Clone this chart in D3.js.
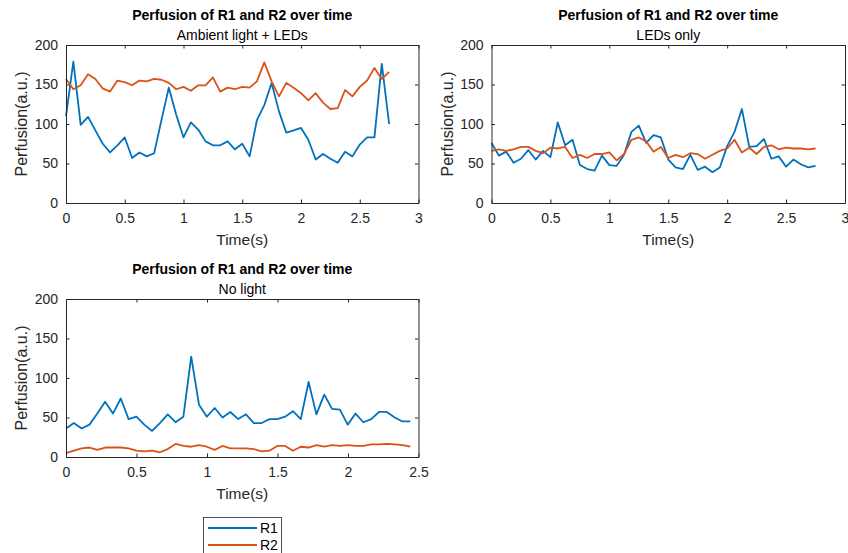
<!DOCTYPE html>
<html>
<head>
<meta charset="utf-8">
<script src="https://cdn.jsdelivr.net/npm/d3@7"></script>
<style>
  html, body { margin: 0; padding: 0; background: #fff; }
  svg { display: block; font-family: "Liberation Sans", Arial, Helvetica, sans-serif; }
</style>
</head>
<body>
<svg id="chart" width="848" height="553"></svg>
<script>
// Perfusion recordings of regions R1 and R2 (arbitrary units), 45 samples each
const ambientR1 = [110,179,99,109,92,75,64,73,83,57,64,59,63,105,146,112,83,102,93,78,73,73,78,68,75,59,105,124,152,116,89,92,95,80,55,62,56,51,65,59,74,83,83,176,100];
const ambientR2 = [157,144,149,163,157,145,141,155,153,149,155,154,157,156,152,144,147,142,149,149,159,141,146,144,147,146,154,178,154,135,152,146,139,130,139,127,119,120,143,135,147,155,171,157,166];
const ledR1 = [76,60,65,51,56,67,55,66,58,102,73,80,48,43,41,60,48,47,61,90,98,76,86,83,55,45,43,61,42,46,39,45,72,90,119,71,72,81,56,59,46,55,49,45,47];
const ledR2 = [66,68,66,68,71,71,66,63,70,69,71,57,61,57,62,62,64,54,62,80,83,78,65,71,57,61,58,63,62,56,61,66,69,80,64,70,62,71,73,68,70,69,69,68,69];
const darkR1 = [36,43,36,41,55,70,55,74,48,51,41,33,43,54,44,51,127,66,51,62,50,57,48,54,43,43,48,48,51,58,48,95,54,79,61,60,41,55,44,48,57,57,50,45,45];
const darkR2 = [5,8,11,12,9,12,12,12,11,8,7,8,6,10,16.5,14,13,15,13,9,14,11,11,11,10,7,8,14,14,8,13,12,15,13,15,14,15,14,14,16,16,16.5,16,15,13];

// sampling interval (s) of each recording
const intervalLit = 0.0625;
const intervalDark = 0.0555;

const seriesNames = ["R1", "R2"];
const colors = ["#0072BD", "#D95319"];
const titleText = "Perfusion of R1 and R2 over time";
const subtitles = ["Ambient light + LEDs", "LEDs only", "No light"];
const yTicks = [0, 50, 100, 150, 200];
const xTicksLong = [0, 0.5, 1, 1.5, 2, 2.5, 3];
const xTicksShort = [0, 0.5, 1, 1.5, 2, 2.5];

const panels = [
  { left: 66, right: 418.5, top: 45, bottom: 203, xMax: 3, xTicks: xTicksLong,
    sub: subtitles[0], series: [ambientR1, ambientR2], dt: intervalLit },
  { left: 491.5, right: 845, top: 45, bottom: 203, xMax: 3, xTicks: xTicksLong,
    sub: subtitles[1], series: [ledR1, ledR2], dt: intervalLit },
  { left: 66, right: 418.5, top: 299, bottom: 457, xMax: 2.5, xTicks: xTicksShort,
    sub: subtitles[2], series: [darkR1, darkR2], dt: intervalDark }
];

const svg = d3.select("#chart");
const axisColor = "#262626";
const tickLen = 3.5;

panels.forEach(p => {
  const x = d3.scaleLinear().domain([0, p.xMax]).range([p.left, p.right]);
  const y = d3.scaleLinear().domain([0, 200]).range([p.bottom, p.top]);
  const g = svg.append("g");

  // data lines
  const line = d3.line()
    .x((d, i) => x(i * p.dt))
    .y(d => y(d));
  p.series.forEach((s, k) => {
    g.append("path")
      .datum(s)
      .attr("d", line)
      .attr("fill", "none")
      .attr("stroke", colors[k])
      .attr("stroke-width", 1.8)
      .attr("stroke-linejoin", "round");
  });

  // axes with inward ticks on all four sides
  const bottomAxis = d3.axisBottom(x).tickValues(p.xTicks).tickSizeInner(-tickLen).tickSizeOuter(0).tickPadding(10).tickFormat(d3.format("~g"));
  const topAxis = d3.axisTop(x).tickValues(p.xTicks).tickSizeInner(-tickLen).tickSizeOuter(0).tickFormat("");
  const leftAxis = d3.axisLeft(y).tickValues(yTicks).tickSizeInner(-tickLen).tickSizeOuter(0).tickPadding(8);
  const rightAxis = d3.axisRight(y).tickValues(yTicks).tickSizeInner(-tickLen).tickSizeOuter(0).tickFormat("");

  const styleAxis = sel => {
    sel.select(".domain").attr("stroke", axisColor).attr("stroke-width", 1);
    sel.selectAll(".tick line").attr("stroke", axisColor).attr("stroke-width", 1);
    sel.selectAll(".tick text").attr("fill", axisColor).style("font-size", "14px")
      .style("font-family", "'Liberation Sans', Arial, Helvetica, sans-serif");
  };

  g.append("g").attr("transform", `translate(0,${p.bottom})`).call(bottomAxis).call(styleAxis);
  g.append("g").attr("transform", `translate(0,${p.top})`).call(topAxis).call(styleAxis);
  g.append("g").attr("transform", `translate(${p.left},0)`).call(leftAxis).call(styleAxis);
  g.append("g").attr("transform", `translate(${p.right},0)`).call(rightAxis).call(styleAxis);

  const cx = (p.left + p.right) / 2;
  const cy = (p.top + p.bottom) / 2;

  // titles
  g.append("text").attr("x", cx).attr("y", p.top - 25)
    .attr("text-anchor", "middle").attr("fill", "#000")
    .style("font-size", "14px").style("font-weight", "bold").text(titleText);
  g.append("text").attr("x", cx).attr("y", p.top - 5)
    .attr("text-anchor", "middle").attr("fill", "#000")
    .style("font-size", "14px").text(p.sub);

  // axis labels
  g.append("text").attr("x", cx).attr("y", p.bottom + 42)
    .attr("text-anchor", "middle").attr("fill", axisColor)
    .style("font-size", "15.5px").text("Time(s)");
  g.append("text").attr("transform", `translate(${p.left - 39},${cy}) rotate(-90)`)
    .attr("text-anchor", "middle").attr("fill", axisColor)
    .style("font-size", "16px").text("Perfusion(a.u.)");
});

// legend
const legend = svg.append("g");
legend.append("rect").attr("x", 203.5).attr("y", 517.5).attr("width", 78).attr("height", 50)
  .attr("fill", "#fff").attr("stroke", axisColor).attr("stroke-width", 0.8);
seriesNames.forEach((name, k) => {
  const ly = 528 + k * 17;
  legend.append("line").attr("x1", 208).attr("x2", 257).attr("y1", ly).attr("y2", ly)
    .attr("stroke", colors[k]).attr("stroke-width", 1.8);
  legend.append("text").attr("x", 260).attr("y", ly + 5).attr("fill", "#000")
    .style("font-size", "14px").text(name);
});
</script>
</body>
</html>
